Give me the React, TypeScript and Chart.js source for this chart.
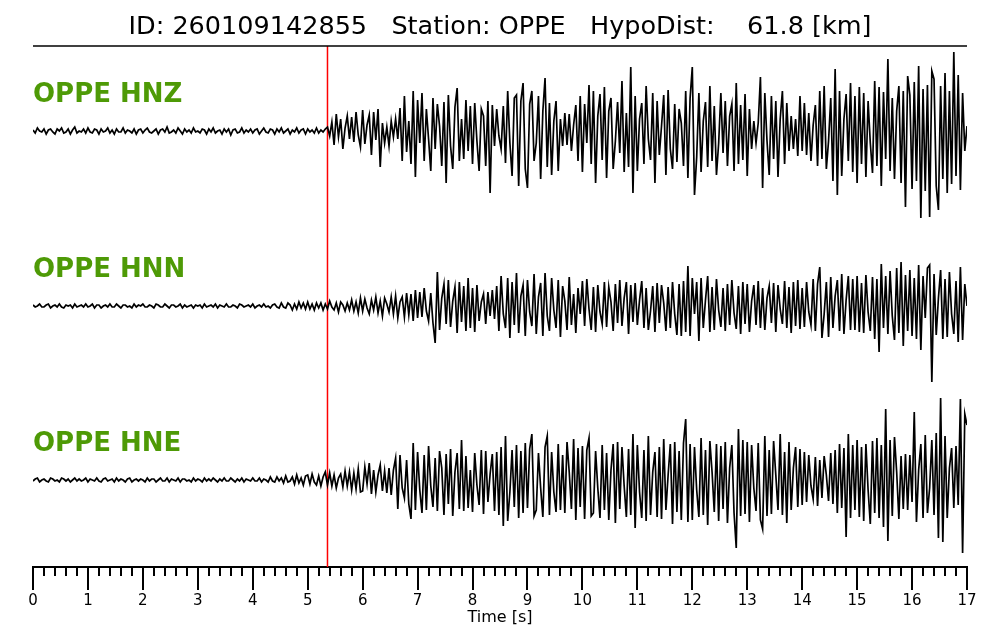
import React, { useEffect, useRef } from "react";
import { Chart, registerables } from "chart.js";

Chart.register(...registerables);

// ---------- data ----------
const TITLE = "ID: 260109142855   Station: OPPE   HypoDist:    61.8 [km]";
const X_LABEL = "Time [s]";
const SAMPLE_RATE = 25; // samples per second
const PICK_TIME = 5.36; // s (red marker)
const T_MIN = 0;
const T_MAX = 17;
const MINOR_STEP = 0.2;
const TRACE_LABELS = ["OPPE HNZ", "OPPE HNN", "OPPE HNE"];

// relative amplitudes (positive up), one row per second
const hnz = [
  1,-2,3,0,-1,2,-3,1,2,-1,-3,2,0,3,-2,-1,2,-3,1,4,-2,0,-1,2,-2,
  3,-1,-2,2,1,-3,2,-1,0,3,-2,1,-3,2,-1,-1,3,-2,1,0,-2,2,-3,1,2,
  -2,1,3,-1,-2,0,2,-3,1,2,-1,4,-2,-1,1,-2,3,0,-3,2,-1,1,-2,3,-1,
  0,-2,2,1,-3,2,-1,3,-2,0,1,-3,2,-1,2,-4,1,2,-2,-1,3,-2,1,-1,2,
  -2,1,2,-3,0,3,-1,-2,2,1,-3,2,-1,3,-2,0,2,-3,1,-1,3,-2,1,2,-3,
  2,-1,1,-2,3,-2,1,-1,2,4,-5,9,-14,17,-6,12,-18,3,15,-8,14,-11,19,-4,-16,
  21,-13,6,16,-24,19,-9,22,-36,8,-12,4,-15,10,-6,12,-8,23,-30,35,-21,10,-33,40,-46,
  31,-12,38,-30,22,-8,-40,33,-18,27,5,-35,29,-52,36,-15,-38,24,43,-30,12,-28,31,-20,25,
  -33,28,-10,-40,22,15,-35,30,-62,26,-15,22,-5,-18,25,-32,40,-12,-45,33,36,-55,30,48,-38,
  -57,27,40,-30,-12,35,-48,20,53,-36,28,-44,10,30,-40,12,-15,18,-14,17,-20,6,26,-30,35,
  -41,27,-12,46,-33,40,-52,15,37,-29,44,-47,20,33,-38,-10,29,-22,50,-41,18,-36,64,-62,35,
  -40,12,28,-33,45,-8,-29,38,-52,30,-24,5,36,-44,41,-18,-38,27,-31,22,8,-35,40,-47,33,
  64,-64,-26,38,-41,10,29,-36,45,-30,25,-44,-12,38,-22,30,-35,15,27,-40,48,-33,26,-29,37,
  -45,22,-18,10,-12,8,54,-57,38,-10,-44,35,-28,30,-46,12,40,-33,28,-20,15,-18,12,-25,35,
  -20,28,-24,18,-30,6,26,-35,40,-28,45,-38,-10,33,-50,62,-64,40,-45,12,37,-30,48,-41,35,
  -52,44,-33,38,-46,30,-12,-42,50,-35,44,-55,39,-28,72,-40,33,-48,20,45,-52,40,-76,55,36,
  -58,49,-50,65,-87,42,-60,46,-86,60,52,-55,-79,45,-48,58,-62,40,-53,79,-45,56,-59,38,-20,
  5,
];

const hnn = [
  1,-1,0,2,-1,-1,1,2,-2,0,1,-1,2,-1,-2,1,0,1,-2,2,-1,0,1,-1,2,
  -1,0,2,-2,1,1,-2,0,1,-1,2,-1,-1,2,0,-2,1,1,-1,0,-2,2,-1,1,0,
  2,-1,-1,1,0,-2,2,1,-1,-1,2,0,-2,1,1,-1,0,2,-2,1,-1,0,1,-2,1,
  0,1,-2,2,-1,0,1,-1,2,-2,1,0,-1,2,-1,-1,1,0,-2,2,1,-1,0,1,-1,
  2,-2,0,1,-1,2,-1,0,-2,1,2,-1,-2,3,-1,-2,3,1,-4,2,-3,4,-2,3,-3,
  4,-3,2,-4,3,-2,3,-4,2,-3,5,-1,-4,3,-6,4,1,-5,3,-4,6,-5,4,-7,8,
  -5,7,-2,-8,6,-4,9,-7,5,-10,8,2,-6,9,-8,10,-12,4,9,-11,13,-9,12,-15,16,
  -12,14,-11,18,-5,-15,13,-17,-37,34,-24,8,22,-18,26,-21,5,19,-27,24,-16,20,-25,28,-22,
  18,-26,21,-15,4,12,-18,14,-10,16,-13,20,-25,30,-8,-22,28,-32,24,-19,33,-27,10,21,-30,
  26,-6,-20,32,-28,9,23,-30,33,-10,-25,28,-4,-22,26,-31,20,5,-24,29,-19,12,-27,18,-8,
  25,-20,27,-3,-24,19,-26,21,-6,-18,24,-21,19,4,-25,22,-17,26,-20,8,24,-28,21,-16,23,
  -19,6,25,-22,18,-24,-5,20,-26,23,-17,21,3,-25,19,-22,24,-8,-29,22,-30,25,-26,40,-30,
  28,-8,24,-35,28,-22,6,30,-26,19,-24,27,-4,-21,18,-25,22,-19,26,-7,-23,20,-28,24,-18,
  22,-26,5,21,-19,25,-22,18,-24,8,20,-17,23,-26,21,-3,-18,25,-22,19,-27,24,-20,26,-23,
  18,-21,24,-6,-19,27,-25,22,39,-32,-8,24,-31,29,-22,10,26,-25,32,-28,6,30,-24,27,-24,
  30,-26,23,-27,31,-6,-25,29,-33,27,-46,42,-22,30,-28,35,-10,-34,38,-27,44,-40,31,-25,36,
  -30,28,-33,41,-44,30,-12,38,41,-76,32,-29,8,36,-33,27,-31,34,-8,-28,25,-36,39,-34,22,
  0,
];

const hne = [
  -1,1,2,-2,0,1,-1,-2,2,1,-1,0,-2,2,1,-1,1,-2,0,2,-1,1,-1,0,2,
  -2,1,0,-1,2,-1,-2,1,2,-1,0,1,-2,2,-1,1,0,-2,1,2,-2,0,1,-1,1,
  0,-2,2,-1,1,1,-2,0,2,-1,-1,2,-2,1,0,-1,2,-2,1,1,-1,0,-2,2,-1,
  1,0,-2,2,-1,1,-1,2,0,-2,1,-1,2,-1,-1,2,0,-2,1,-1,2,-2,1,0,-1,
  2,-1,-1,2,-2,1,0,-2,3,-1,-2,3,-1,2,-3,4,-2,-1,3,-4,5,-3,2,-5,4,
  5,-4,6,-2,-5,4,-6,3,8,-5,7,-6,5,-8,2,6,-7,9,-6,8,-10,7,-9,11,-12,
  -11,13,-4,17,-14,10,-12,5,15,-11,9,-13,12,-15,10,22,-29,25,-8,-18,20,-24,-39,37,-30,
  28,-10,-33,25,-30,34,-6,-27,22,-31,29,12,-35,26,-24,31,-36,8,27,-29,40,-31,24,-28,10,
  -32,27,-5,-25,30,-34,29,-22,6,26,-31,28,-35,33,-46,44,-41,-12,30,-27,35,-38,29,-33,37,
  -28,31,46,-36,-30,27,-8,-37,33,44,-35,28,-12,-32,36,-30,25,-33,38,8,-29,41,-40,32,-27,
  34,-39,30,42,-36,-33,29,-8,-38,35,-30,27,-40,10,36,-43,38,-29,33,-6,-37,31,-35,46,-48,
  35,-12,-38,30,-41,44,-35,8,28,-37,33,-39,41,-30,5,36,-44,38,-32,29,-40,37,61,-42,36,
  -40,33,-10,-37,42,-35,30,-45,39,8,-32,36,-41,34,-29,38,-43,12,35,-33,-68,51,-36,40,-34,
  38,-42,35,-8,-31,37,-40,-49,44,-36,30,-34,39,5,-30,46,-35,28,-43,38,-30,12,33,-27,31,
  -25,28,-22,25,-6,-19,23,-26,20,-18,24,5,-21,27,-24,30,-33,36,-28,32,-57,46,-38,35,-30,
  40,-37,33,-41,36,-10,-44,39,-33,42,-38,35,-47,71,-61,40,-36,43,8,-39,24,-29,26,-30,25,
  -22,68,-42,10,36,-38,45,-33,-8,40,-35,47,-58,82,-62,44,-38,12,32,-28,34,-25,81,-73,66,
  55,
];

const TRACES = [hnz, hnn, hne];

// ---------- layout / style ----------
const Y_RANGE = 521; // vertical units of the plot area
const TRACE_BASELINES = [436, 261, 87];
const LABEL_RISE = 29;
const FONT = "'DejaVu Sans', sans-serif";
const LABEL_COLOR = "#4e9a06";

const decorPlugin = {
  id: "decor",
  afterDraw(chart: any) {
    const { ctx, chartArea, scales } = chart;
    const xs = scales.x;
    const ys = scales.y;
    ctx.save();
    // top rule
    ctx.strokeStyle = "#000";
    ctx.lineWidth = 1.5;
    ctx.beginPath();
    ctx.moveTo(chartArea.left, chartArea.top);
    ctx.lineTo(chartArea.right, chartArea.top);
    ctx.stroke();
    // minor ticks
    ctx.lineWidth = 2;
    ctx.beginPath();
    const n = Math.round((T_MAX - T_MIN) / MINOR_STEP);
    for (let k = 0; k <= n; k++) {
      if (k % 5 === 0) continue;
      const px = Math.round(xs.getPixelForValue(T_MIN + k * MINOR_STEP));
      ctx.moveTo(px, chartArea.bottom);
      ctx.lineTo(px, chartArea.bottom + 9);
    }
    ctx.stroke();
    // trace labels
    ctx.fillStyle = LABEL_COLOR;
    ctx.font = `bold 26px ${FONT}`;
    ctx.textAlign = "left";
    ctx.textBaseline = "alphabetic";
    TRACE_LABELS.forEach((lab, i) => {
      const py = ys.getPixelForValue(TRACE_BASELINES[i] + LABEL_RISE);
      ctx.fillText(lab, chartArea.left, py);
    });
    ctx.restore();
  },
};

export default function App() {
  const ref = useRef<HTMLCanvasElement | null>(null);
  useEffect(() => {
    if (!ref.current) return;
    Chart.defaults.font.family = FONT;
    const traceSets = TRACES.map((arr, i) => ({
      label: TRACE_LABELS[i],
      data: arr.map((v, k) => ({ x: k / SAMPLE_RATE, y: TRACE_BASELINES[i] + v })),
      borderColor: "#000",
      borderWidth: 1.7,
      pointRadius: 0,
      tension: 0,
      order: 1,
    }));
    const chart = new Chart(ref.current, {
      type: "line",
      data: {
        datasets: [
          ...traceSets,
          {
            label: "pick",
            data: [
              { x: PICK_TIME, y: 0 },
              { x: PICK_TIME, y: Y_RANGE },
            ],
            borderColor: "#ff0000",
            borderWidth: 1.5,
            pointRadius: 0,
            order: 2,
          },
        ],
      },
      options: {
        animation: false,
        responsive: false,
        layout: { padding: { left: 33, right: 33, top: 0, bottom: 0 } },
        plugins: {
          legend: { display: false },
          tooltip: { enabled: false },
          title: {
            display: true,
            text: TITLE,
            color: "#000",
            font: { size: 25.5, weight: "normal", family: FONT },
            padding: { top: 12.5, bottom: 2.9 },
          },
        },
        scales: {
          x: {
            type: "linear",
            min: T_MIN,
            max: T_MAX,
            afterFit: (s: any) => {
              s.height = 73;
            },
            ticks: {
              stepSize: 1,
              autoSkip: false,
              color: "#000",
              font: { size: 15, family: FONT },
              padding: 2,
              maxRotation: 0,
            },
            grid: {
              display: true,
              drawOnChartArea: false,
              drawTicks: true,
              tickLength: 23,
              tickWidth: 2,
              tickColor: "#000",
              color: "#000",
              lineWidth: 2,
            },
            border: { display: true, color: "#000", width: 2 },
            title: {
              display: true,
              text: X_LABEL,
              color: "#000",
              font: { size: 16, family: FONT },
              padding: { top: 0, bottom: 13 },
            },
          },
          y: {
            type: "linear",
            display: false,
            min: 0,
            max: Y_RANGE,
          },
        },
      },
      plugins: [decorPlugin],
    });
    return () => chart.destroy();
  }, []);
  return (
    <canvas
      ref={ref}
      width={1000}
      height={640}
      style={{ position: "fixed", left: 0, top: 0, display: "block", background: "#fff" }}
    />
  );
}
